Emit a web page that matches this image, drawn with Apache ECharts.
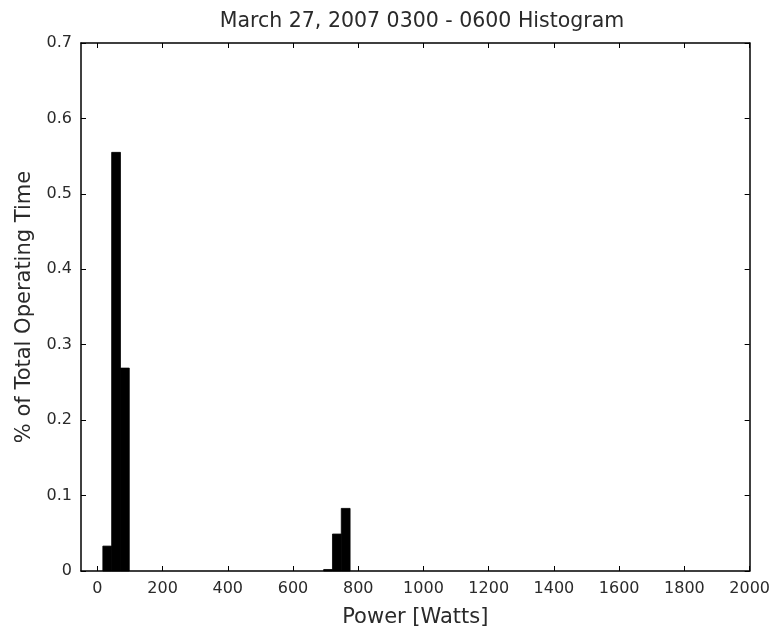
<!DOCTYPE html>
<html>
<head>
<meta charset="utf-8">
<script src="https://cdn.jsdelivr.net/npm/echarts@6/dist/echarts.min.js"></script>
<style>
  html, body { margin: 0; padding: 0; background: #fff; }
  #main { width: 773px; height: 635px; }
</style>
</head>
<body>
<div id="main"></div>
<script>
// bin edges (watts) and share of operating time
var binStart = [17, 44, 71, 694, 721, 748];
var binEnd = [44, 71, 98, 721, 748, 775];
var binValue = [0.033, 0.555, 0.269, 0.002, 0.049, 0.083];
var xTicks = [0, 200, 400, 600, 800, 1000, 1200, 1400, 1600, 1800, 2000];

var bins = [];
for (var i = 0; i < binValue.length; i++) {
  bins.push([binStart[i], binEnd[i], binValue[i]]);
}

var myChart = echarts.init(document.getElementById('main'));
var txt = '#2a2a2a';
var font = 'DejaVu Sans';

var option = {
  animation: false,
  title: {
    text: 'March 27, 2007 0300 - 0600 Histogram',
    left: 417, top: 6, textAlign: 'center',
    textStyle: { fontFamily: font, fontSize: 20.5, fontWeight: 'normal', color: txt }
  },
  grid: { left: 81, top: 43, right: 21, bottom: 64 },
  xAxis: [{
    type: 'value', min: -50, max: 2000,
    name: 'Power [Watts]', nameLocation: 'middle', nameGap: 36,
    nameTextStyle: { fontFamily: font, fontSize: 21, color: txt },
    axisLine: { lineStyle: { color: '#000', width: 1.5 } },
    axisTick: { inside: true, length: 5, customValues: xTicks, lineStyle: { color: '#000' } },
    axisLabel: {
      customValues: xTicks, fontFamily: font, fontSize: 16, color: txt, margin: 10,
      formatter: function (v) { return String(v); }
    },
    splitLine: { show: false }
  }, {
    type: 'value', min: -50, max: 2000, position: 'top',
    axisLine: { onZero: false, lineStyle: { color: '#000', width: 1.5 } },
    axisTick: { inside: true, length: 5, customValues: xTicks, lineStyle: { color: '#000' } },
    axisLabel: { show: false },
    splitLine: { show: false }
  }],
  yAxis: [{
    type: 'value', min: 0, max: 0.7, interval: 0.1,
    name: '% of Total Operating Time', nameLocation: 'middle', nameGap: 46,
    nameTextStyle: { fontFamily: font, fontSize: 21, color: txt },
    axisLine: { show: true, onZero: false, lineStyle: { color: '#000', width: 1.5 } },
    axisTick: { show: true, inside: true, length: 5, lineStyle: { color: '#000' } },
    axisLabel: {
      fontFamily: font, fontSize: 16, color: txt, margin: 9,
      formatter: function (v) { return v === 0 ? '0' : v.toFixed(1); }
    },
    splitLine: { show: false }
  }, {
    type: 'value', min: 0, max: 0.7, interval: 0.1, position: 'right',
    axisLine: { show: true, onZero: false, lineStyle: { color: '#000', width: 1.5 } },
    axisTick: { show: true, inside: true, length: 5, lineStyle: { color: '#000' } },
    axisLabel: { show: false },
    splitLine: { show: false }
  }],
  series: [{
    type: 'custom',
    xAxisIndex: 0, yAxisIndex: 0,
    data: bins,
    renderItem: function (params, api) {
      var p0 = api.coord([api.value(0), api.value(2)]);
      var p1 = api.coord([api.value(1), 0]);
      return {
        type: 'rect',
        shape: { x: p0[0], y: p0[1], width: p1[0] - p0[0], height: p1[1] - p0[1] },
        style: { fill: '#000', stroke: '#000', lineWidth: 0.8 }
      };
    }
  }]
};
myChart.setOption(option);
</script>
</body>
</html>
